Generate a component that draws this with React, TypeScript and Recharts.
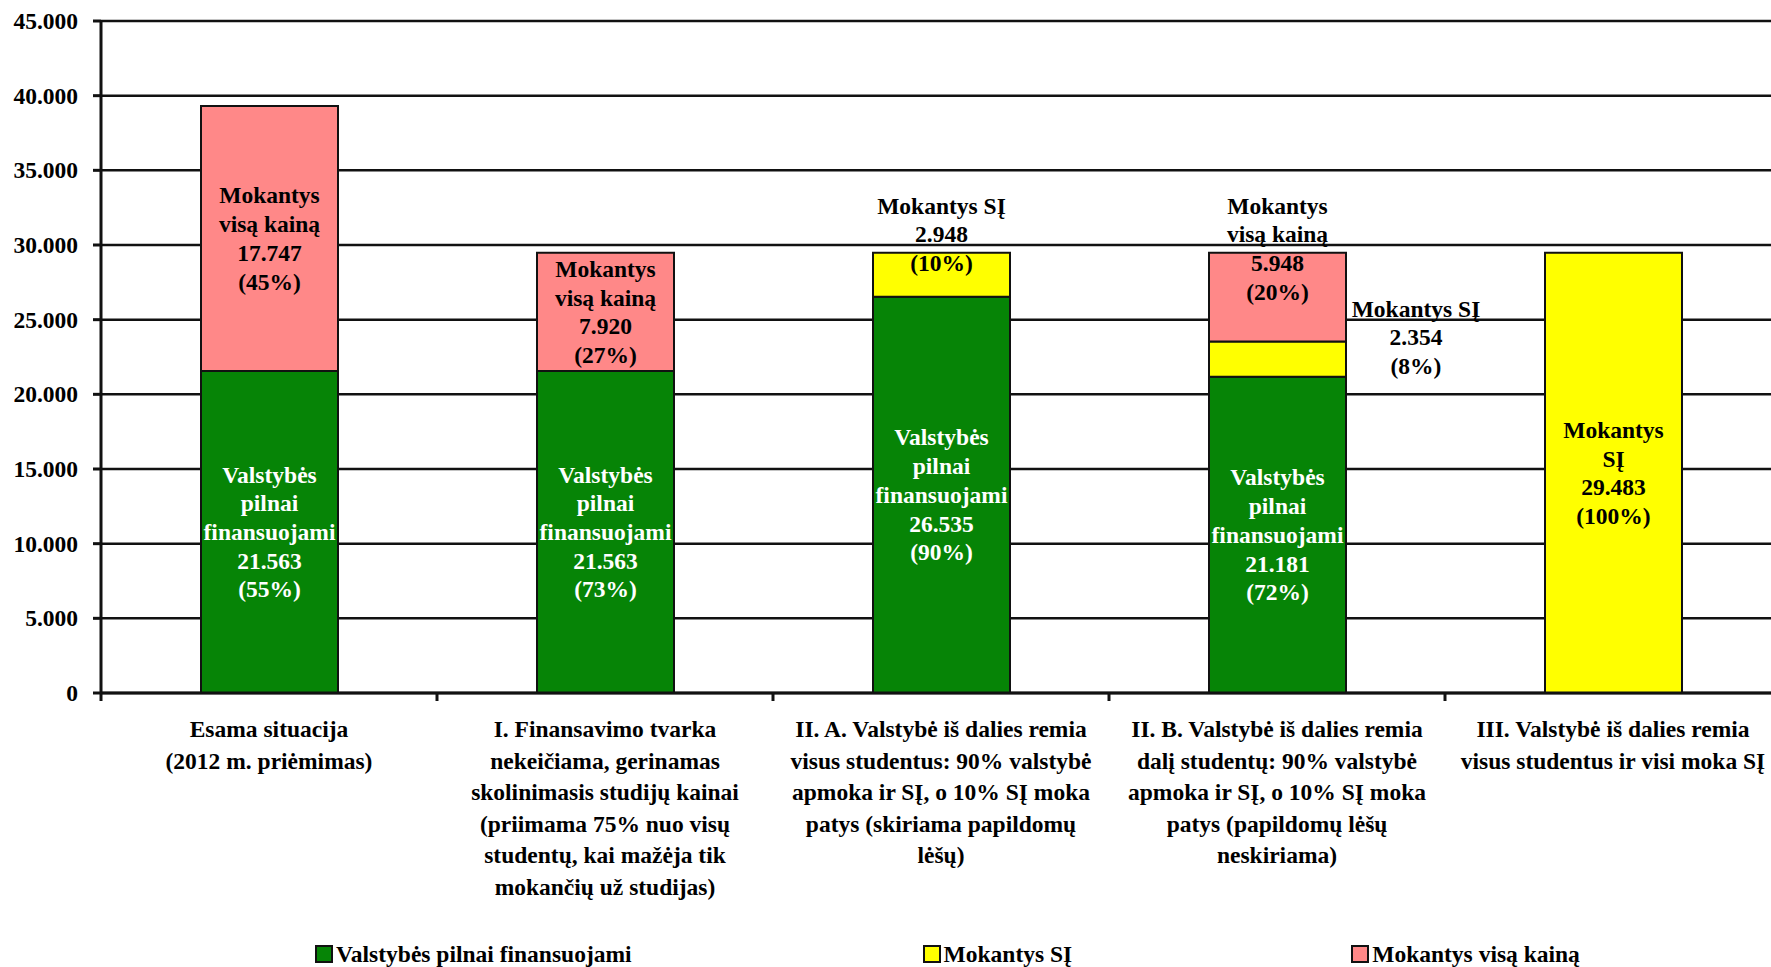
import React from "react";
import { BarChart, Bar, XAxis, YAxis, CartesianGrid, Legend, LabelList } from "recharts";

// ---------- data ----------
const categoryLines: string[][] = [
  ["Esama situacija", "(2012 m. priėmimas)"],
  [
    "I. Finansavimo tvarka",
    "nekeičiama, gerinamas",
    "skolinimasis studijų kainai",
    "(priimama 75% nuo visų",
    "studentų, kai mažėja tik",
    "mokančių už studijas)",
  ],
  [
    "II. A. Valstybė iš dalies remia",
    "visus studentus: 90% valstybė",
    "apmoka ir SĮ, o 10% SĮ moka",
    "patys (skiriama papildomų",
    "lėšų)",
  ],
  [
    "II. B. Valstybė iš dalies remia",
    "dalį studentų: 90% valstybė",
    "apmoka ir SĮ, o 10% SĮ moka",
    "patys (papildomų lėšų",
    "neskiriama)",
  ],
  ["III. Valstybė iš dalies remia", "visus studentus ir visi moka SĮ"],
];

const stateFunded = [21563, 21563, 26535, 21181, 0];
const payingSI = [0, 0, 2948, 2354, 29483];
const payingFull = [17747, 7920, 0, 5948, 0];

const stateFundedPct = [55, 73, 90, 72, 0];
const payingSIPct = [0, 0, 10, 8, 100];
const payingFullPct = [45, 27, 0, 20, 0];

const stateFundedTitles = [
  ["Valstybės", "pilnai", "finansuojami"],
  ["Valstybės", "pilnai", "finansuojami"],
  ["Valstybės", "pilnai", "finansuojami"],
  ["Valstybės", "pilnai", "finansuojami"],
  ["Valstybės", "pilnai", "finansuojami"],
];
const payingSITitles = [["Mokantys SĮ"], ["Mokantys SĮ"], ["Mokantys SĮ"], ["Mokantys SĮ"], ["Mokantys", "SĮ"]];
const payingFullTitles = [
  ["Mokantys", "visą kainą"],
  ["Mokantys", "visą kainą"],
  ["Mokantys", "visą kainą"],
  ["Mokantys", "visą kainą"],
  ["Mokantys", "visą kainą"],
];

const yTicks = [0, 5000, 10000, 15000, 20000, 25000, 30000, 35000, 40000, 45000];

const seriesNames = ["Valstybės pilnai finansuojami", "Mokantys SĮ", "Mokantys visą kainą"];

// label placement style (not data)
const stateFundedPos = ["center", "center", "center", "center", "center"];
const payingSIPos = ["center", "center", "above", "right", "center"];
const payingFullPos = ["center", "center", "center", "above", "center"];

const data = categoryLines.map((lines, i) => ({
  name: lines.join(" "),
  state: stateFunded[i],
  si: payingSI[i],
  full: payingFull[i],
}));

// ---------- style ----------
const FONT = "Liberation Serif";
const FS = 23.5;
const GREEN = "#068406";
const YELLOW = "#FFFF00";
const PINK = "#FF8888";
const INK = "#111";

const CHART_W = 1790;
const CHART_H = 967;
const MARGIN = { top: 21, right: 9, left: 0, bottom: 0 };
const Y_W = 101;
const PLOT_W = CHART_W - MARGIN.left - MARGIN.right - Y_W;
const BAND = PLOT_W / categoryLines.length;
const LEGEND_H = 44;
const X_H = CHART_H - 693 - LEGEND_H;
const LH = 28.7;
const CAT_LH = 31.6;
const LEGEND_GAPS = [291, 279, 0];

const fmt = (v: number) => (v === 0 ? "0" : String(v).replace(/\B(?=(\d{3})+(?!\d))/g, "."));

const textStyle = { fontFamily: FONT, fontWeight: 700 as const, fontSize: FS };

const CategoryTick = (props: any) => {
  const { x, y, payload, index } = props;
  const idx = payload && typeof payload.index === "number" ? payload.index : index;
  const lines = categoryLines[idx] || [];
  const bx = x - BAND / 2;
  return (
    <g>
      <line x1={bx} x2={bx} y1={y - 8} y2={y} stroke={INK} strokeWidth={3} />
      <text x={x} y={y} textAnchor="middle" style={textStyle} fill="#000">
        {lines.map((l, i) => (
          <tspan key={i} x={x} y={y + 36 + i * CAT_LH}>
            {l}
          </tspan>
        ))}
      </text>
    </g>
  );
};

const YTick = (props: any) => {
  const { x, y, payload } = props;
  return (
    <text x={x} y={y} dy={8} textAnchor="end" style={textStyle} fill="#000">
      {fmt(payload.value)}
    </text>
  );
};

const makeLabel =
  (values: number[], pcts: number[], titles: string[][], pos: string[], color: string) =>
  (props: any) => {
    let index = data.findIndex((d) => d.name === props.value);
    if (index < 0) index = props.index;
    const v = values[index];
    if (!v) return null;
    const vb = props.viewBox || {};
    const x = props.x ?? vb.x;
    const y0 = props.y ?? vb.y;
    const w = props.width ?? vb.width;
    const h0 = props.height ?? vb.height;
    const y = h0 < 0 ? y0 + h0 : y0;
    const h = Math.abs(h0);
    const lines = [...titles[index], fmt(v), `(${pcts[index]}%)`];
    const p = pos[index];
    let cx = x + w / 2;
    let first: number;
    let fill = color;
    if (p === "center") {
      first = y + h / 2 - ((lines.length - 1) * LH) / 2;
    } else if (p === "above") {
      first = y - 47;
      fill = "#000";
    } else {
      cx = x + w + 70;
      first = y - 33;
      fill = "#000";
    }
    return (
      <text textAnchor="middle" style={textStyle} fill={fill}>
        {lines.map((l, i) => (
          <tspan key={i} x={cx} y={first + i * LH + 8}>
            {l}
          </tspan>
        ))}
      </text>
    );
  };

const legendColors = [GREEN, YELLOW, PINK];

const renderLegend = () => (
  <div
    style={{
      height: LEGEND_H,
      boxSizing: "border-box",
      display: "flex",
      alignItems: "flex-end",
      paddingLeft: 315,
      paddingBottom: 1,
      fontFamily: FONT,
      fontWeight: 700,
      fontSize: FS,
      color: "#000",
    }}
  >
    {seriesNames.map((n, i) => (
      <div key={n} style={{ display: "flex", alignItems: "flex-end", marginRight: LEGEND_GAPS[i] }}>
        <span
          style={{
            display: "inline-block",
            width: 14,
            height: 14,
            border: `2.5px solid ${INK}`,
            background: legendColors[i],
            marginRight: 3,
            marginBottom: 3,
          }}
        />
        <span style={{ lineHeight: "24px", whiteSpace: "nowrap" }}>{n}</span>
      </div>
    ))}
  </div>
);

export default function App() {
  return (
    <div
      style={{
        position: "absolute",
        left: 0,
        top: 0,
        width: 1771,
        height: 967,
        overflow: "hidden",
        background: "#fff",
        fontFamily: FONT,
      }}
    >
      <BarChart width={CHART_W} height={CHART_H} data={data} margin={MARGIN} barSize={137}>
        <CartesianGrid vertical={false} stroke={INK} strokeWidth={2.5} />
        <XAxis
          dataKey="name"
          interval={0}
          height={X_H}
          tickLine={false}
          tickSize={8}
          tickMargin={0}
          axisLine={{ stroke: INK, strokeWidth: 3 }}
          tick={<CategoryTick />}
        />
        <YAxis
          width={Y_W}
          domain={[0, 45000]}
          ticks={yTicks}
          interval={0}
          tickSize={8}
          tickMargin={15}
          axisLine={{ stroke: INK, strokeWidth: 3 }}
          tickLine={{ stroke: INK, strokeWidth: 3 }}
          tick={<YTick />}
        />
        <Legend verticalAlign="bottom" align="left" height={LEGEND_H} content={renderLegend} />
        <Bar dataKey="state" name={seriesNames[0]} stackId="a" fill={GREEN} stroke={INK} strokeWidth={2} isAnimationActive={false}>
          <LabelList dataKey="name" content={makeLabel(stateFunded, stateFundedPct, stateFundedTitles, stateFundedPos, "#fff")} />
        </Bar>
        <Bar dataKey="si" name={seriesNames[1]} stackId="a" fill={YELLOW} stroke={INK} strokeWidth={2} isAnimationActive={false}>
          <LabelList dataKey="name" content={makeLabel(payingSI, payingSIPct, payingSITitles, payingSIPos, "#000")} />
        </Bar>
        <Bar dataKey="full" name={seriesNames[2]} stackId="a" fill={PINK} stroke={INK} strokeWidth={2} isAnimationActive={false}>
          <LabelList dataKey="name" content={makeLabel(payingFull, payingFullPct, payingFullTitles, payingFullPos, "#000")} />
        </Bar>
      </BarChart>
    </div>
  );
}
